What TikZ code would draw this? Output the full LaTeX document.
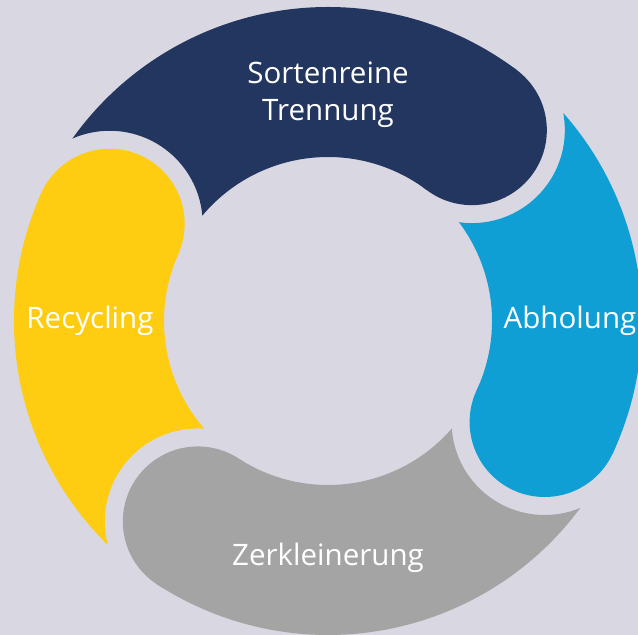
\documentclass[tikz,border=0pt]{standalone}
\usepackage{fontspec}
\setmainfont{Open Sans}
\definecolor{ringbg}{HTML}{D9D8E2}
\definecolor{ringnavy}{HTML}{23365F}
\definecolor{ringcyan}{HTML}{109FD4}
\definecolor{ringgray}{HTML}{A4A4A4}
\definecolor{ringyellow}{HTML}{FECC10}
\begin{document}
\begin{tikzpicture}[x=0.025cm,y=0.025cm,
    steplabel/.style={text=white,align=center,font=\fontsize{21}{26.5}\selectfont}]
	\fill[ringbg] (-328,-314) rectangle (310,321);
	\useasboundingbox (-328,-314) rectangle (310,321);
	% each piece: tail cut by the head of the one before it
	\foreach \col/\from/\to in {ringyellow/237/156,ringnavy/156/53,ringcyan/53/-25,ringgray/-25/-123}{
		\begin{scope}[even odd rule]
			\clip (-340,-340) rectangle (340,340) (\from:239) circle (93);
			\fill[\col] (\from:314) arc[start angle=\from,end angle=\to,radius=314]
				-- (\to:164) arc[start angle=\to,end angle=\from,radius=164] -- cycle;
		\end{scope}
		\fill[\col] (\to:239) circle (75);
	}
	\node[steplabel] (sort) at (90:226) {Sortenreine\\Trennung};
	\node[steplabel] (abhol) at (0:242) {Abholung};
	\node[steplabel] (zerkl) at (-90:237) {Zerkleinerung};
	\node[steplabel] (recyc) at (180:238) {Recycling};
\end{tikzpicture}
\end{document}
